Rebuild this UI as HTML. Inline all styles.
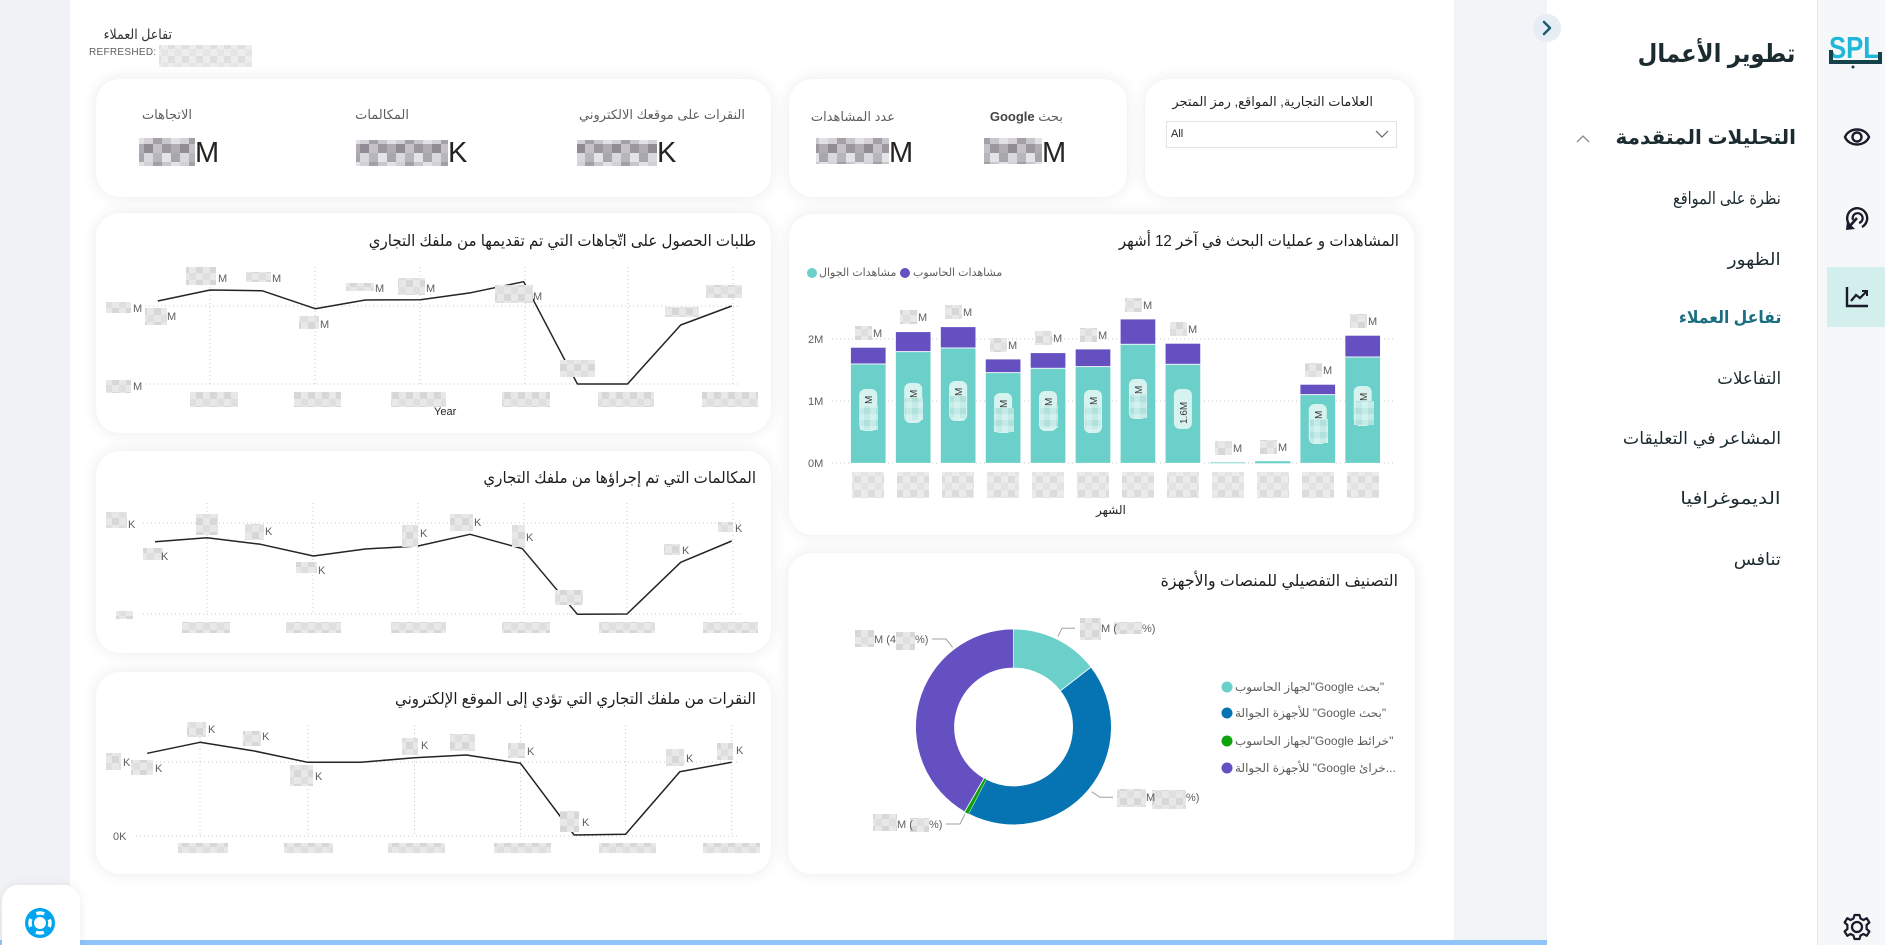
<!DOCTYPE html>
<html><head><meta charset="utf-8">
<style>
body{margin:0;padding:0;}
#c{position:relative;width:1885px;height:945px;overflow:hidden;background:#fff;font-family:"Liberation Sans","DejaVu Sans",sans-serif;color:#252423;}
.a{position:absolute;}
.card{position:absolute;background:#fff;border-radius:24px;box-shadow:0 0 16px rgba(0,0,0,0.085);}
.t{position:absolute;white-space:nowrap;}
.r{direction:rtl;}
.ct{transform:scaleX(0.94);transform-origin:right center;color:#1e1d1c;}
</style></head><body>
<div id="c">
<div class="a" style="left:0;top:0;width:70px;height:945px;background:#f1f2f6"></div>
<div class="a" style="left:1454px;top:0;width:93px;height:945px;background:#f3f4f8"></div>
<div class="a" style="left:1547px;top:0;width:270px;height:945px;background:#fff;border-right:1px solid #e3e5e9"></div>
<div class="a" style="left:1818px;top:0;width:67px;height:945px;background:#f6f7f9"></div>
<div class="a" style="left:1827px;top:267px;width:58px;height:60px;background:#d2efee"></div>
<div class="a" style="left:0;top:940px;width:1547px;height:5px;background:#8fc4f8"></div>
<div class="a" style="left:2px;top:885px;width:78px;height:75px;background:#fff;border-radius:16px;box-shadow:0 0 10px rgba(0,0,0,0.08)"></div>

<div class="card" style="left:96px;top:79px;width:675px;height:118px"></div>
<div class="card" style="left:789px;top:79px;width:338px;height:118px"></div>
<div class="card" style="left:1145px;top:79px;width:269px;height:118px"></div>
<div class="card" style="left:96px;top:213px;width:675px;height:220px"></div>
<div class="card" style="left:96px;top:451px;width:675px;height:202px"></div>
<div class="card" style="left:96px;top:672px;width:675px;height:202px"></div>
<div class="card" style="left:789px;top:214px;width:625px;height:321px"></div>
<div class="card" style="left:788px;top:553px;width:627px;height:321px"></div>

<div class="a" style="left:1166px;top:121px;width:229px;height:25px;border:1px solid #e1e1e1;background:#fff"></div>

<svg class="a" style="left:0;top:0" width="1885" height="945" viewBox="0 0 1885 945">
<defs>
<pattern id="pl" width="14" height="14" patternUnits="userSpaceOnUse"><rect width="14" height="14" fill="#e8e8e8"/><rect width="7" height="7" fill="#d7d7d7"/><rect x="7" y="7" width="7" height="7" fill="#dfdfdf"/></pattern>
<pattern id="pd" width="36" height="27" patternUnits="userSpaceOnUse">
<rect width="36" height="27" fill="#bdbac1"/>
<rect x="0" y="0" width="9" height="9" fill="#d3d1d6"/><rect x="9" y="0" width="9" height="9" fill="#a3a0a8"/><rect x="18" y="0" width="9" height="9" fill="#c9c7cd"/><rect x="27" y="0" width="9" height="9" fill="#e2e1e5"/>
<rect x="0" y="9" width="9" height="9" fill="#8f8c95"/><rect x="9" y="9" width="9" height="9" fill="#c4c2c8"/><rect x="18" y="9" width="9" height="9" fill="#9a97a0"/><rect x="27" y="9" width="9" height="9" fill="#b0adb4"/>
<rect x="0" y="18" width="9" height="9" fill="#d9d8dc"/><rect x="9" y="18" width="9" height="9" fill="#b8b6bc"/><rect x="18" y="18" width="9" height="9" fill="#e4e3e6"/><rect x="27" y="18" width="9" height="9" fill="#a9a6ad"/>
</pattern>
<pattern id="pt" width="12" height="12" patternUnits="userSpaceOnUse"><rect width="12" height="12" fill="#c4ebe7"/><rect width="6" height="6" fill="#b0e1dc"/><rect x="6" y="6" width="6" height="6" fill="#d3f1ee"/></pattern>
</defs>

<rect x="159" y="45" width="93" height="22" fill="url(#pl)" opacity="0.8"/>

<rect x="577" y="140" width="80" height="26" fill="url(#pd)"/>
<rect x="356" y="140" width="92" height="26" fill="url(#pd)"/>
<rect x="139" y="138" width="56" height="28" fill="url(#pd)"/>
<rect x="984" y="138" width="58" height="26" fill="url(#pd)"/>
<rect x="816" y="138" width="73" height="26" fill="url(#pd)"/>

<path d="M1376,131 L1382,137 L1388,131" stroke="#666" stroke-width="1.2" fill="none"/>

<g stroke="#c6c6c6" stroke-width="1" stroke-dasharray="1 3">
<line x1="832" y1="339" x2="1394" y2="339"/>
<line x1="832" y1="401" x2="1394" y2="401"/>
<line x1="832" y1="463" x2="1394" y2="463"/>
</g>
<g font-size="11" fill="#605e5c">
<text x="808" y="343">2M</text><text x="808" y="405">1M</text><text x="808" y="467">0M</text>
</g>
<circle cx="812" cy="273" r="5" fill="#6ad0c9"/>
<circle cx="905" cy="273" r="5" fill="#6550c2"/>

<g stroke="#fff" stroke-width="0.8">
<rect x="850.5" y="347.3" width="35.5" height="16.7" fill="#6550c2"/><rect x="850.5" y="364" width="35.5" height="99.3" fill="#6ad0c9"/>
<rect x="895.45" y="331.7" width="35.5" height="20" fill="#6550c2"/><rect x="895.45" y="351.7" width="35.5" height="111.6" fill="#6ad0c9"/>
<rect x="940.4" y="326.7" width="35.5" height="21.3" fill="#6550c2"/><rect x="940.4" y="348" width="35.5" height="115.3" fill="#6ad0c9"/>
<rect x="985.35" y="359" width="35.5" height="13.7" fill="#6550c2"/><rect x="985.35" y="372.7" width="35.5" height="90.6" fill="#6ad0c9"/>
<rect x="1030.3" y="352.7" width="35.5" height="15.6" fill="#6550c2"/><rect x="1030.3" y="368.3" width="35.5" height="95" fill="#6ad0c9"/>
<rect x="1075.25" y="349" width="35.5" height="17.7" fill="#6550c2"/><rect x="1075.25" y="366.7" width="35.5" height="96.6" fill="#6ad0c9"/>
<rect x="1120.2" y="319" width="35.5" height="25.3" fill="#6550c2"/><rect x="1120.2" y="344.3" width="35.5" height="119" fill="#6ad0c9"/>
<rect x="1165.15" y="343.3" width="35.5" height="21" fill="#6550c2"/><rect x="1165.15" y="364.3" width="35.5" height="99" fill="#6ad0c9"/>
<rect x="1300" y="384.3" width="35.5" height="10.4" fill="#6550c2"/><rect x="1300" y="394.7" width="35.5" height="68.6" fill="#6ad0c9"/>
<rect x="1344.95" y="335.3" width="35.5" height="21.7" fill="#6550c2"/><rect x="1344.95" y="357" width="35.5" height="106.3" fill="#6ad0c9"/>
</g>
<rect x="1210.1" y="462" width="35.5" height="1.4" fill="#a9e3df"/>
<rect x="1255.05" y="461.2" width="35.5" height="2.1" fill="#6ad0c9"/>

<g fill="#d7f3f0">
<rect x="859.25" y="389" width="18" height="42" rx="6"/>
<rect x="904.2" y="383" width="18" height="40" rx="6"/>
<rect x="949.15" y="381" width="18" height="40" rx="6"/>
<rect x="994.1" y="393" width="18" height="40" rx="6"/>
<rect x="1039.05" y="391" width="18" height="40" rx="6"/>
<rect x="1084" y="390" width="18" height="43" rx="6"/>
<rect x="1128.95" y="379" width="18" height="40" rx="6"/>
<rect x="1173.9" y="389" width="18" height="40" rx="6"/>
<rect x="1308.75" y="404" width="18" height="40" rx="6"/>
<rect x="1353.7" y="386" width="18" height="40" rx="6"/>
</g>
<g fill="url(#pt)">
<rect x="860" y="406" width="18" height="24"/>
<rect x="905" y="398" width="18" height="22"/>
<rect x="950" y="396" width="16" height="22"/>
<rect x="994" y="408" width="20" height="24"/>
<rect x="1040" y="406" width="18" height="22"/>
<rect x="1085" y="405" width="16" height="24"/>
<rect x="1130" y="394" width="17" height="24"/>
<rect x="1310" y="419" width="18" height="24"/>
<rect x="1354" y="401" width="20" height="24"/>
</g>
<g font-size="10" fill="#3b3a39">
<text transform="translate(872,404) rotate(-90)">M</text>
<text transform="translate(917,398) rotate(-90)">M</text>
<text transform="translate(962,396) rotate(-90)">M</text>
<text transform="translate(1007,408) rotate(-90)">M</text>
<text transform="translate(1052,406) rotate(-90)">M</text>
<text transform="translate(1097,405) rotate(-90)">M</text>
<text transform="translate(1142,394) rotate(-90)">M</text>
<text transform="translate(1187,424) rotate(-90)">1.6M</text>
<text transform="translate(1322,419) rotate(-90)">M</text>
<text transform="translate(1367,401) rotate(-90)">M</text>
</g>

<g fill="url(#pl)">
<rect x="855" y="326" width="17" height="14"/>
<rect x="900" y="310" width="17" height="14"/>
<rect x="945" y="305" width="17" height="14"/>
<rect x="990" y="338" width="17" height="14"/>
<rect x="1035" y="331" width="17" height="14"/>
<rect x="1080" y="328" width="17" height="14"/>
<rect x="1125" y="298" width="17" height="14"/>
<rect x="1170" y="322" width="17" height="14"/>
<rect x="1215" y="441" width="17" height="14"/>
<rect x="1260" y="440" width="17" height="14"/>
<rect x="1305" y="363" width="17" height="14"/>
<rect x="1350" y="314" width="17" height="14"/>
</g>
<g font-size="11" fill="#605e5c">
<text x="873" y="337">M</text><text x="918" y="321">M</text><text x="963" y="316">M</text><text x="1008" y="349">M</text>
<text x="1053" y="342">M</text><text x="1098" y="339">M</text><text x="1143" y="309">M</text><text x="1188" y="333">M</text>
<text x="1233" y="452">M</text><text x="1278" y="451">M</text><text x="1323" y="374">M</text><text x="1368" y="325">M</text>
</g>
<g fill="url(#pl)" opacity="0.85">
<rect x="852" y="472" width="32" height="26"/><rect x="897" y="472" width="32" height="26"/><rect x="942" y="472" width="32" height="26"/>
<rect x="987" y="472" width="32" height="26"/><rect x="1032" y="472" width="32" height="26"/><rect x="1077" y="472" width="32" height="26"/>
<rect x="1122" y="472" width="32" height="26"/><rect x="1167" y="472" width="32" height="26"/><rect x="1212" y="472" width="32" height="26"/>
<rect x="1257" y="472" width="32" height="26"/><rect x="1302" y="472" width="32" height="26"/><rect x="1347" y="472" width="32" height="26"/>
</g>

<g stroke="#c8c8c8" stroke-width="1" stroke-dasharray="1 3" fill="none">
<line x1="145" y1="306" x2="740" y2="306"/><line x1="145" y1="384" x2="740" y2="384"/>
<line x1="210" y1="267" x2="210" y2="384"/><line x1="315" y1="267" x2="315" y2="384"/><line x1="420" y1="267" x2="420" y2="384"/>
<line x1="525" y1="267" x2="525" y2="384"/><line x1="628" y1="267" x2="628" y2="384"/><line x1="733" y1="267" x2="733" y2="384"/>
<line x1="143" y1="523" x2="740" y2="523"/><line x1="143" y1="614" x2="740" y2="614"/>
<line x1="207" y1="503" x2="207" y2="614"/><line x1="313" y1="503" x2="313" y2="614"/><line x1="418" y1="503" x2="418" y2="614"/>
<line x1="524" y1="503" x2="524" y2="614"/><line x1="627" y1="503" x2="627" y2="614"/><line x1="733" y1="503" x2="733" y2="614"/>
<line x1="136" y1="762" x2="740" y2="762"/><line x1="136" y1="836" x2="740" y2="836"/>
<line x1="200" y1="725" x2="200" y2="836"/><line x1="308" y1="725" x2="308" y2="836"/><line x1="414.5" y1="725" x2="414.5" y2="836"/>
<line x1="520.5" y1="725" x2="520.5" y2="836"/><line x1="625.6" y1="725" x2="625.6" y2="836"/><line x1="731.7" y1="725" x2="731.7" y2="836"/>
</g>
<g stroke="#252423" stroke-width="1.5" fill="none" stroke-linejoin="round">
<path d="M157.8,301 L210.1,290 L262,290.7 L315.3,308.7 L365.3,300 L420.4,299.7 L470.9,292.7 L523.7,281.7 L577.4,384 L627.5,384 L680.7,325 L731.7,306"/>
<path d="M155,541.7 L207,537.7 L260.6,544.3 L313.4,556 L365.3,549 L418.1,546 L470,534.3 L522.4,548.7 L577.4,614.3 L627,614 L680.7,562.3 L731.7,541"/>
<path d="M147.2,753.3 L200,742.3 L252.8,750.7 L307.9,762.3 L360.7,762.3 L414.5,757.7 L466.3,755 L520.5,763.3 L574.2,835 L625.6,834.3 L679.8,771.7 L731.7,762.3"/>
</g>
<g fill="url(#pl)">
<rect x="106" y="302" width="25" height="11"/><rect x="106" y="380" width="25" height="13"/>
<rect x="145" y="308" width="22" height="17"/><rect x="186" y="267" width="30" height="18"/><rect x="246" y="272" width="25" height="10"/>
<rect x="299" y="316" width="20" height="13"/><rect x="346" y="283" width="28" height="8"/><rect x="398" y="278" width="27" height="17"/>
<rect x="495" y="285" width="38" height="18"/><rect x="560" y="360" width="35" height="17"/><rect x="665" y="307" width="34" height="10"/>
<rect x="706" y="285" width="36" height="13"/>
<rect x="190" y="392" width="48" height="15"/><rect x="294" y="392" width="47" height="15"/><rect x="391" y="392" width="55" height="15"/>
<rect x="502" y="392" width="48" height="15"/><rect x="598" y="392" width="56" height="15"/><rect x="702" y="392" width="56" height="15"/>

<rect x="106" y="512" width="21" height="16"/><rect x="116" y="611" width="17" height="8"/>
<rect x="143" y="548" width="20" height="12"/><rect x="196" y="514" width="22" height="21"/><rect x="245" y="524" width="19" height="16"/>
<rect x="296" y="562" width="21" height="11"/><rect x="402" y="525" width="16" height="22"/><rect x="450" y="514" width="23" height="17"/>
<rect x="512" y="525" width="13" height="22"/><rect x="555" y="590" width="28" height="15"/><rect x="664" y="544" width="16" height="11"/>
<rect x="718" y="522" width="15" height="10"/>
<rect x="182" y="622" width="48" height="11"/><rect x="286" y="622" width="55" height="11"/><rect x="391" y="622" width="55" height="11"/>
<rect x="502" y="622" width="48" height="11"/><rect x="599" y="622" width="56" height="11"/><rect x="703" y="622" width="55" height="11"/>

<rect x="106" y="753" width="15" height="17"/><rect x="131" y="760" width="22" height="15"/><rect x="187" y="722" width="19" height="15"/>
<rect x="243" y="731" width="18" height="15"/><rect x="290" y="765" width="23" height="21"/><rect x="402" y="738" width="16" height="17"/>
<rect x="450" y="734" width="25" height="17"/><rect x="508" y="743" width="17" height="15"/><rect x="560" y="811" width="19" height="21"/>
<rect x="666" y="749" width="18" height="17"/><rect x="717" y="743" width="16" height="17"/>
<rect x="178" y="843" width="50" height="10"/><rect x="284" y="843" width="49" height="10"/><rect x="388" y="843" width="57" height="10"/>
<rect x="494" y="843" width="57" height="10"/><rect x="599" y="843" width="57" height="10"/><rect x="703" y="843" width="57" height="10"/>
</g>
<g font-size="11" fill="#605e5c">
<text x="133" y="312">M</text><text x="133" y="390">M</text>
<text x="167" y="320">M</text><text x="218" y="282">M</text><text x="272" y="282">M</text><text x="320" y="328">M</text>
<text x="375" y="292">M</text><text x="426" y="292">M</text><text x="533" y="300">M</text>
<text x="128" y="528">K</text><text x="161" y="560">K</text><text x="265" y="535">K</text><text x="318" y="574">K</text>
<text x="420" y="537">K</text><text x="474" y="526">K</text><text x="526" y="541">K</text><text x="682" y="554">K</text><text x="735" y="532">K</text>
<text x="123" y="766">K</text><text x="155" y="772">K</text><text x="208" y="733">K</text><text x="262" y="740">K</text>
<text x="315" y="780">K</text><text x="421" y="749">K</text><text x="527" y="755">K</text><text x="582" y="826">K</text>
<text x="686" y="762">K</text><text x="736" y="754">K</text>
<text x="113" y="840">0K</text>
</g>

<g stroke="#fff" stroke-width="0.8">
<path d="M1013.6,629 A98,98 0 0 1 1091.1,667.1 L1060.3,690.9 A59,59 0 0 0 1013.6,668 Z" fill="#6ad0c9"/>
<path d="M1091.1,667.1 A98,98 0 0 1 968.4,813.9 L986.4,779.3 A59,59 0 0 0 1060.3,690.9 Z" fill="#0673b2"/>
<path d="M968.4,813.9 A98,98 0 0 1 964.6,811.9 L984.1,778.1 A59,59 0 0 0 986.4,779.3 Z" fill="#0ca30c" stroke="none"/>
<path d="M964.6,811.9 A98,98 0 0 1 1013.6,629 L1013.6,668 A59,59 0 0 0 984.1,778.1 Z" fill="#6550c2"/>
</g>
<g stroke="#a0a0a0" stroke-width="1" fill="none">
<path d="M1057.8,636.7 L1062,628.3 L1075,628.3"/>
<path d="M932,639 L946,639 L952.6,647.3"/>
<path d="M1091.5,791.7 L1100,797.3 L1113,797.3"/>
<path d="M946,824 L960,824 L965,814"/>
</g>
<g fill="url(#pl)">
<rect x="1080" y="618" width="21" height="22"/><rect x="1114" y="622" width="28" height="12"/>
<rect x="855" y="630" width="19" height="17"/><rect x="896" y="632" width="19" height="18"/>
<rect x="1117" y="789" width="29" height="18"/><rect x="1152" y="790" width="34" height="19"/>
<rect x="873" y="814" width="24" height="17"/><rect x="910" y="818" width="19" height="14"/>
</g>
<g font-size="11" fill="#605e5c">
<text x="1101" y="632">M (</text><text x="1142" y="632">%)</text>
<text x="874" y="643">M (4</text><text x="915" y="643">%)</text>
<text x="1146" y="801">M</text><text x="1186" y="801">%)</text>
<text x="897" y="828">M (</text><text x="929" y="828">%)</text>
</g>
<circle cx="1227" cy="687" r="5.5" fill="#6ad0c9"/>
<circle cx="1227" cy="713" r="5.5" fill="#0673b2"/>
<circle cx="1227" cy="741" r="5.5" fill="#0ca30c"/>
<circle cx="1227" cy="768" r="5.5" fill="#6550c2"/>

<circle cx="40" cy="923" r="15" fill="#00a4ef"/>
<circle cx="40" cy="923" r="10" fill="none" stroke="#fff" stroke-width="3.5" stroke-dasharray="8 7.7" stroke-dashoffset="4"/>
<circle cx="40" cy="923" r="6" fill="#fff"/>

<circle cx="1547" cy="28" r="14" fill="#e6edf4"/>
<path d="M1544,22 L1550,28 L1544,34" stroke="#1d5b6e" stroke-width="2.5" fill="none" stroke-linecap="round" stroke-linejoin="round"/>
<path d="M1577,142 L1583,136 L1589,142" stroke="#8a8a8a" stroke-width="1.3" fill="none"/>

<text x="1829" y="58" font-size="31" font-weight="bold" fill="#1fb8d9" textLength="50" lengthAdjust="spacingAndGlyphs" font-family="Liberation Sans, sans-serif">SPL</text>
<path d="M1831,50 L1831,62 L1880,62 L1880,52" stroke="#15414a" stroke-width="4" fill="none"/>
<circle cx="1853" cy="67" r="1.5" fill="#15414a"/>
<path d="M1845,137 C1849,127 1865,127 1869,137 C1865,147 1849,147 1845,137 Z" stroke="#1a1a2a" stroke-width="2.4" fill="none"/>
<circle cx="1857" cy="137" r="4.5" stroke="#1a1a2a" stroke-width="2.4" fill="none"/>
<path d="M1849,224 A10,10 0 1 1 1862,227" stroke="#1a1a2a" stroke-width="2.4" fill="none"/>
<path d="M1853,220 A5,5 0 1 1 1859,223" stroke="#1a1a2a" stroke-width="2.2" fill="none"/>
<path d="M1857,218 L1848,228" stroke="#1a1a2a" stroke-width="2.6"/>
<path d="M1846,230 L1847,221 L1855,229 Z" fill="#1a1a2a"/>
<path d="M1847,287 L1847,306 L1868,306" stroke="#1a1a2a" stroke-width="2.4" fill="none"/>
<path d="M1851,301 L1856,295 L1860,298 L1866,292" stroke="#1a1a2a" stroke-width="2.2" fill="none"/>
<path d="M1862,291 L1867,291 L1867,296" stroke="#1a1a2a" stroke-width="2" fill="none"/>
<g transform="translate(1857,927)">
<circle r="5" stroke="#1a1a2a" stroke-width="2.3" fill="none"/>
<path d="M-2.5,-12 L2.5,-12 L3.5,-8.5 L6.5,-7 L9.7,-8.8 L12.4,-4.5 L9.6,-2 L9.6,2 L12.4,4.5 L9.7,8.8 L6.5,7 L3.5,8.5 L2.5,12 L-2.5,12 L-3.5,8.5 L-6.5,7 L-9.7,8.8 L-12.4,4.5 L-9.6,2 L-9.6,-2 L-12.4,-4.5 L-9.7,-8.8 L-6.5,-7 L-3.5,-8.5 Z" stroke="#1a1a2a" stroke-width="2.2" fill="none" stroke-linejoin="round"/>
</g>
</svg>

<!-- Sidebar text -->
<div class="t r" style="right:90px;top:38px;font-size:25px;line-height:32px;font-weight:bold;color:#1b2b2f;transform:scaleX(0.91);transform-origin:right center">تطوير الأعمال</div>
<div class="t r" style="right:89px;top:125px;font-size:20px;line-height:26px;font-weight:bold;color:#1b2b2f">التحليلات المتقدمة</div>
<div class="t r" style="right:104px;top:187px;font-size:17px;line-height:24px;color:#1b2b2f;transform:scaleX(0.85);transform-origin:right center">نظرة على المواقع</div>
<div class="t r" style="right:104px;top:248px;font-size:17px;line-height:24px;color:#1b2b2f;transform:scaleX(1.09);transform-origin:right center">الظهور</div>
<div class="t r" style="right:104px;top:306px;font-size:17px;line-height:24px;color:#1b6f80;font-weight:bold;transform:scaleX(0.92);transform-origin:right center">تفاعل العملاء</div>
<div class="t r" style="right:104px;top:367px;font-size:17px;line-height:24px;color:#1b2b2f;transform:scaleX(0.98);transform-origin:right center">التفاعلات</div>
<div class="t r" style="right:104px;top:427px;font-size:17px;line-height:24px;color:#1b2b2f;transform:scaleX(1.02);transform-origin:right center">المشاعر في التعليقات</div>
<div class="t r" style="right:104px;top:487px;font-size:17px;line-height:24px;color:#1b2b2f;transform:scaleX(1.2);transform-origin:right center">الديموغرافيا</div>
<div class="t r" style="right:104px;top:548px;font-size:17px;line-height:24px;color:#1b2b2f;transform:scaleX(1.05);transform-origin:right center">تنافس</div>

<!-- Header -->
<div class="t r" style="right:1713px;top:25px;font-size:14px;line-height:18px;color:#333;transform:scaleX(0.9);transform-origin:right center">تفاعل العملاء</div>
<div class="t" style="left:89px;top:47px;font-size:10px;line-height:12px;color:#605e5c;letter-spacing:0.3px">REFRESHED:</div>

<!-- KPI labels -->
<div class="t r" style="right:1140px;top:106px;font-size:13px;line-height:18px;color:#605e5c">النقرات على موقعك الالكتروني</div>
<div class="t r" style="right:1476px;top:106px;font-size:13px;line-height:18px;color:#605e5c">المكالمات</div>
<div class="t r" style="right:1693px;top:106px;font-size:13px;line-height:18px;color:#605e5c">الاتجاهات</div>
<div class="t r" style="right:822px;top:108px;font-size:13px;line-height:18px;color:#605e5c">بحث <b style="color:#444">Google</b></div>
<div class="t r" style="right:990px;top:108px;font-size:13px;line-height:18px;color:#605e5c">عدد المشاهدات</div>
<div class="t" style="left:657px;top:139px;font-size:29px;line-height:29px">K</div>
<div class="t" style="left:448px;top:139px;font-size:29px;line-height:29px">K</div>
<div class="t" style="left:195px;top:139px;font-size:29px;line-height:29px">M</div>
<div class="t" style="left:1042px;top:139px;font-size:29px;line-height:29px">M</div>
<div class="t" style="left:889px;top:139px;font-size:29px;line-height:29px">M</div>

<!-- slicer -->
<div class="t r" style="right:512px;top:93px;font-size:13px;line-height:18px;color:#252423">العلامات التجارية, المواقع, رمز المتجر</div>
<div class="t" style="left:1171px;top:127px;font-size:11px;line-height:14px;color:#252423">All</div>

<!-- chart titles -->
<div class="t r ct" style="right:486px;top:231px;font-size:16px;line-height:22px">المشاهدات و عمليات البحث في آخر 12 أشهر</div>
<div class="t r ct" style="right:1129px;top:231px;font-size:16px;line-height:22px">طلبات الحصول على اتّجاهات التي تم تقديمها من ملفك التجاري</div>
<div class="t r ct" style="right:1129px;top:468px;font-size:16px;line-height:22px">المكالمات التي تم إجراؤها من ملفك التجاري</div>
<div class="t r ct" style="right:1129px;top:689px;font-size:16px;line-height:22px">النقرات من ملفك التجاري التي تؤدي إلى الموقع الإلكتروني</div>
<div class="t r ct" style="right:487px;top:571px;font-size:16px;line-height:22px;transform:scaleX(0.985)">التصنيف التفصيلي للمنصات والأجهزة</div>

<!-- bar legend -->
<div class="t r" style="left:819px;top:266px;font-size:11px;line-height:14px;color:#605e5c">مشاهدات الجوال</div>
<div class="t r" style="left:913px;top:266px;font-size:11px;line-height:14px;color:#605e5c">مشاهدات الحاسوب</div>
<div class="t r" style="left:1096px;top:502px;font-size:12px;line-height:16px;color:#252423">الشهر</div>
<div class="t" style="left:434px;top:405px;font-size:11px;line-height:14px;color:#252423">Year</div>

<!-- donut legend -->
<div class="t r" style="left:1235px;top:679px;font-size:12px;line-height:16px;color:#605e5c">"بحث Google"لجهاز الحاسوب</div>
<div class="t r" style="left:1235px;top:705px;font-size:12px;line-height:16px;color:#605e5c">"بحث Google" للأجهزة الجوالة</div>
<div class="t r" style="left:1235px;top:733px;font-size:12px;line-height:16px;color:#605e5c">"خرائط Google"لجهاز الحاسوب</div>
<div class="t r" style="left:1235px;top:760px;font-size:12px;line-height:16px;color:#605e5c">...خرائ Google" للأجهزة الجوالة</div>
</div>
</body></html>
